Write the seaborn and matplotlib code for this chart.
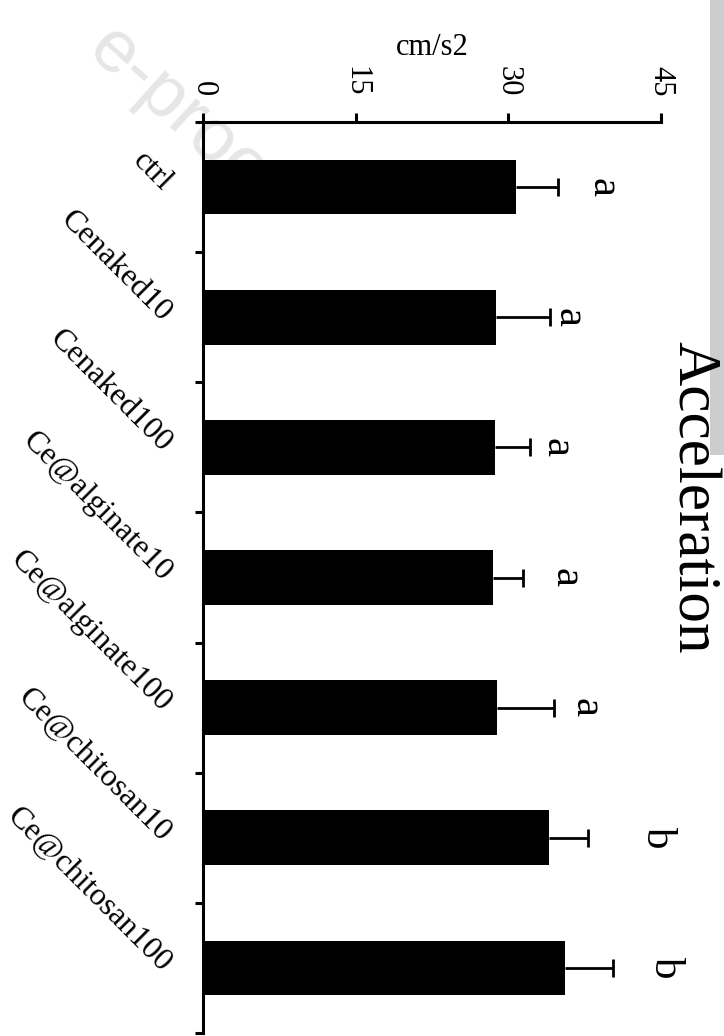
import matplotlib
matplotlib.use("Agg")
import matplotlib.pyplot as plt
from matplotlib.patches import Rectangle
import seaborn as sns
import pandas as pd
import numpy as np

# ---- data ----
categories = ["ctrl", "Cenaked10", "Cenaked100", "Ce@alginate10",
              "Ce@alginate100", "Ce@chitosan10", "Ce@chitosan100"]
means = [30.8, 28.8, 28.7, 28.5, 28.9, 34.0, 35.6]
sds = [4.1, 5.3, 3.4, 2.9, 5.6, 3.8, 4.7]
letters = ["a", "a", "a", "a", "a", "b", "b"]
letter_gap = [4.4, 1.8, 2.7, 4.2, 3.1, 6.8, 5.1]
xticks = [0, 15, 30, 45]
xlabel = "cm/s2"
title = "Acceleration"

sns.set_style("ticks")
plt.rcParams["font.family"] = ["Liberation Serif", "DejaVu Serif"]
plt.rcParams["text.color"] = "black"
plt.rcParams["axes.labelcolor"] = "black"
plt.rcParams["xtick.color"] = "black"
plt.rcParams["ytick.color"] = "black"
plt.rcParams["axes.edgecolor"] = "black"

fig = plt.figure(figsize=(7.24, 10.36), dpi=100)
fig.patch.set_facecolor("white")

# page decorations (watermark + side strip)
fig.text(178 / 724, 1 - 112 / 1036, "e-proo", rotation=-42, color="#e6e6e6",
         fontsize=54, family="Liberation Sans", ha="center", va="center", zorder=-5)
fig.patches.append(Rectangle((710 / 724, 1 - 455 / 1036), 14 / 724, 455 / 1036,
                             transform=fig.transFigure, facecolor="#cdcdcf",
                             edgecolor="none", zorder=-5))

ax = fig.add_axes([203 / 724, 3 / 1036, 458 / 724, 911 / 1036])
ax.set_facecolor("none")

df = pd.DataFrame({"group": categories, "acc": means})
sns.barplot(data=df, x="acc", y="group", orient="h", color="black",
            saturation=1, width=0.42, errorbar=None, linewidth=0, ax=ax)

ypos = np.arange(len(categories))
eb = ax.errorbar(means, ypos, xerr=[np.zeros(len(sds)), sds], fmt="none",
                 ecolor="black", elinewidth=2, capsize=6.5, capthick=2, zorder=3)
caplines = eb.lines[1]
if len(caplines) >= 2:
    caplines[0].set_visible(False)  # hide the lower (bar-end) caps

for i, (m, s, g, L) in enumerate(zip(means, sds, letter_gap, letters)):
    ax.text(m + s + g, i, L, rotation=-90, ha="center", va="center",
            fontsize=31, clip_on=False)

# value axis on top
ax.xaxis.tick_top()
ax.xaxis.set_label_position("top")
ax.set_xlim(0, 45)
ax.set_xticks(xticks)
ax.set_xticklabels([str(t) for t in xticks], rotation=-90)
ax.tick_params(axis="x", which="major", top=True, bottom=False, direction="out",
               length=6.5, width=2.2, pad=12, labelsize=22)
ax.set_xlabel(xlabel, fontsize=22, labelpad=8)

# category axis
ax.set_ylim(6.5, -0.5)
ax.set_yticks(ypos)
ax.set_yticklabels(categories, rotation=-45, ha="right", va="center",
                   rotation_mode="anchor", fontsize=23)
ax.set_yticks(np.arange(-0.5, len(categories), 1), minor=True)
ax.tick_params(axis="y", which="major", length=0, pad=26)
ax.tick_params(axis="y", which="minor", length=6, width=2.2, direction="out")
ax.set_ylabel("")

for sp in ["right", "bottom"]:
    ax.spines[sp].set_visible(False)
for sp in ["left", "top"]:
    ax.spines[sp].set_linewidth(2.2)
    ax.spines[sp].set_color("black")

fig.text(693 / 724, 1 - 497 / 1036, title, rotation=-90, ha="center",
         va="center", fontsize=44)

fig.savefig("out.png", dpi=100)
